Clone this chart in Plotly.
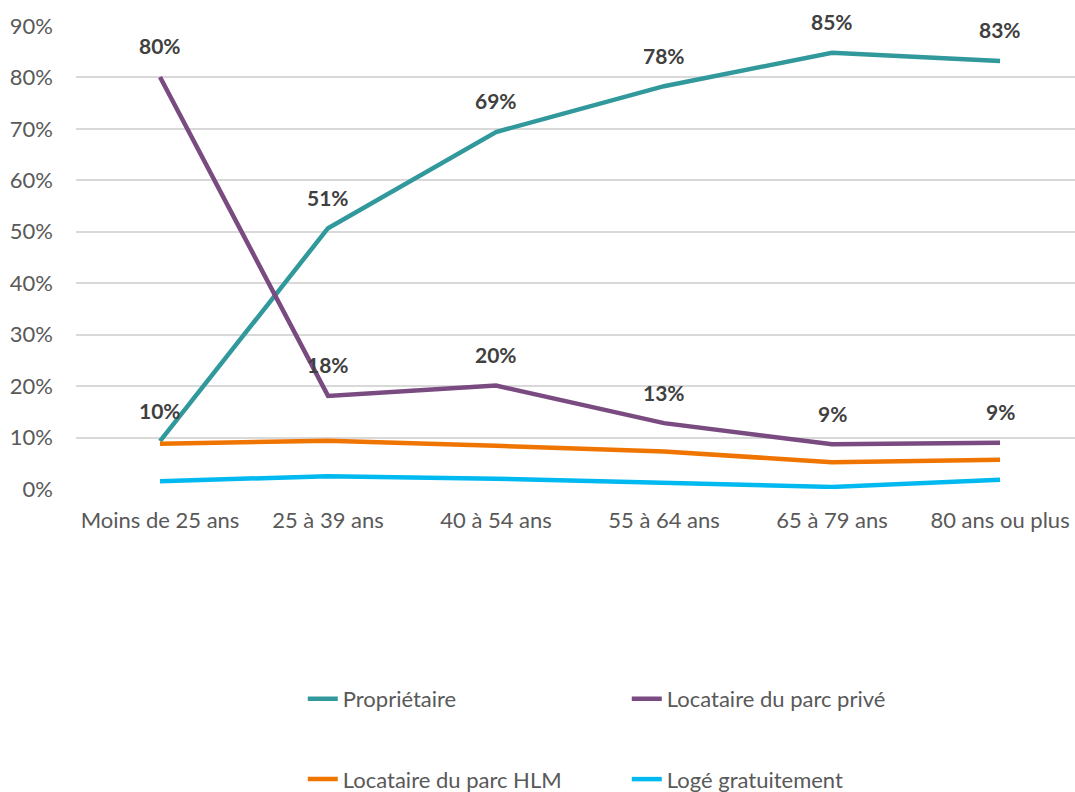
import plotly.graph_objects as go

categories = ["Moins de 25 ans", "25 à 39 ans", "40 à 54 ans", "55 à 64 ans", "65 à 79 ans", "80 ans ou plus"]
proprietaire = [0.093, 0.507, 0.694, 0.783, 0.848, 0.832]
prive = [0.801, 0.181, 0.201, 0.128, 0.087, 0.090]
hlm = [0.088, 0.094, 0.084, 0.073, 0.052, 0.057]
loge = [0.015, 0.025, 0.020, 0.012, 0.004, 0.018]
labels_proprietaire = ["10%", "51%", "69%", "78%", "85%", "83%"]
labels_prive = ["80%", "18%", "20%", "13%", "9%", "9%"]

FONT = "Lato"
colors = {"Propriétaire": "#31999B", "Locataire du parc privé": "#7A4B80",
          "Locataire du parc HLM": "#F07400", "Logé gratuitement": "#00B9F0"}

fig = go.Figure()
series = [("Propriétaire", proprietaire, "legend"),
          ("Locataire du parc privé", prive, "legend"),
          ("Locataire du parc HLM", hlm, "legend2"),
          ("Logé gratuitement", loge, "legend2")]
xs = list(range(len(categories)))
for name, vals, lg in series:
    fig.add_trace(go.Scatter(x=xs, y=vals, mode="lines", name=name,
                             line=dict(color=colors[name], width=4.5),
                             legend=lg, hoverinfo="skip"))

for vals, labs in [(proprietaire, labels_proprietaire), (prive, labels_prive)]:
    for xi, v, t in zip(xs, vals, labs):
        fig.add_annotation(x=xi, y=v, text=t, showarrow=False, yshift=31,
                           font=dict(family=FONT, size=21, color="#404040", weight="bold"))

fig.update_layout(
    width=1075, height=792,
    margin=dict(l=76, r=0, t=26, b=303, autoexpand=False),
    plot_bgcolor="white", paper_bgcolor="white",
    font=dict(family=FONT, size=22, color="#595959"),
    xaxis=dict(range=[-0.5, 5.446], tickvals=xs, ticktext=categories,
               showgrid=False, zeroline=False, showline=False, ticks="",
               ticklabelstandoff=16,
               tickfont=dict(size=22, color="#595959")),
    yaxis=dict(range=[0, 0.9], dtick=0.1, tickformat=".0%",
               showgrid=True, gridcolor="#D9D9D9", gridwidth=1.5,
               zeroline=False, showline=False, ticks="", ticklabelstandoff=22,
               tickfont=dict(size=22, color="#595959")),
    legend=dict(orientation="h", x=0.227, xanchor="left", y=-0.4536, yanchor="middle",
                entrywidth=279, entrywidthmode="pixels", itemwidth=30,
                font=dict(family=FONT, size=22, color="#595959"), bgcolor="rgba(0,0,0,0)"),
    legend2=dict(orientation="h", x=0.227, xanchor="left", y=-0.627, yanchor="middle",
                 entrywidth=279, entrywidthmode="pixels", itemwidth=30,
                 font=dict(family=FONT, size=22, color="#595959"), bgcolor="rgba(0,0,0,0)"),
    showlegend=True,
)

fig.write_html("out.html")
